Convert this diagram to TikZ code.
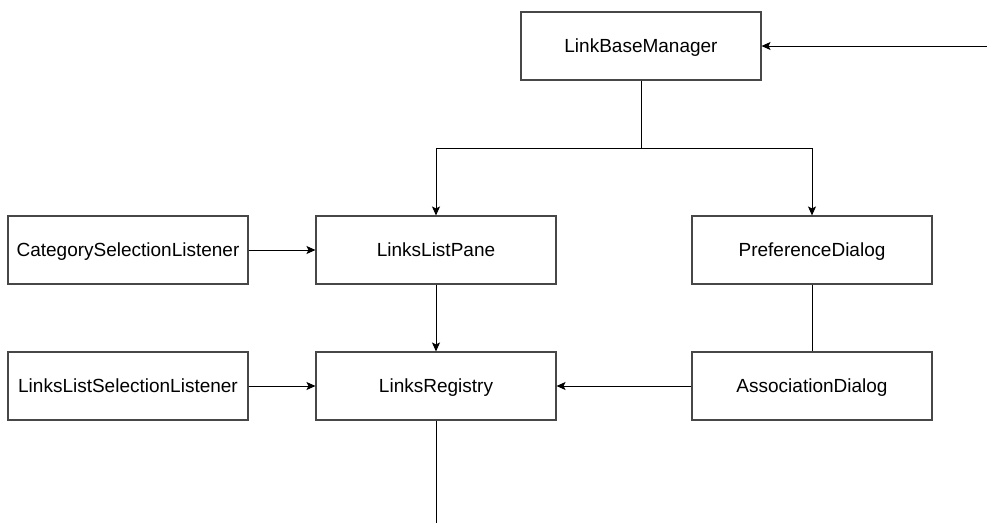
\documentclass[tikz,border=0pt]{standalone}
\usepackage{fontspec}
\setmainfont{Liberation Sans}
\usetikzlibrary{arrows.meta}
\begin{document}
\begin{tikzpicture}[x=1pt,y=-1pt,
  box/.style={draw=black!72,line width=1.1pt,fill=white,minimum width=240pt,minimum height=68pt,inner sep=0pt,
    text height=13.6pt,text depth=0pt,
    font=\fontsize{19}{23}\selectfont,anchor=center},
  conn/.style={line width=1pt,draw=black},
  arr/.style={conn,-{Stealth[length=9pt,width=8pt,inset=2pt]}}]
\useasboundingbox (0,0) rectangle (987,523);
\node[box] (lbm) at (641,46) {LinkBaseManager};
\node[box] (csl) at (128,250) {CategorySelectionListener};
\node[box] (llp) at (436,250) {LinksListPane};
\node[box] (pd) at (812,250) {PreferenceDialog};
\node[box] (llsl) at (128,386) {LinksListSelectionListener};
\node[box] (lr) at (436,386) {LinksRegistry};
\node[box] (ad) at (812,386) {AssociationDialog};
\coordinate (ext) at (987,46);
\coordinate (split) at (641,148);
\coordinate (bottom) at (436,523);
\draw[arr] (ext) -- (lbm.east);
\draw[conn] (lbm.south) -- (split);
\draw[arr] (split) -| (llp.north);
\draw[arr] (split) -| (pd.north);
\draw[arr] (csl.east) -- (llp.west);
\draw[arr] (llsl.east) -- (lr.west);
\draw[arr] (llp.south) -- (lr.north);
\draw[conn] (pd.south) -- (ad.north);
\draw[arr] (ad.west) -- (lr.east);
\draw[conn] (lr.south) -- (bottom);
\end{tikzpicture}
\end{document}
